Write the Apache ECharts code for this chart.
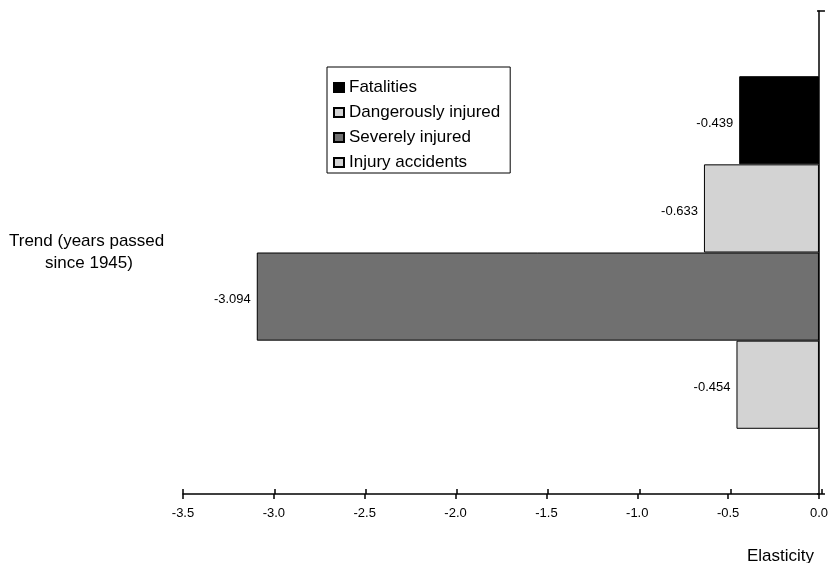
<!DOCTYPE html>
<html>
<head>
<meta charset="utf-8">
<script src="https://cdn.jsdelivr.net/npm/echarts@6/dist/echarts.min.js"></script>
<style>html,body{margin:0;padding:0;background:#fff;}#c{width:831px;height:563px;}</style>
</head>
<body>
<div id="c"></div>
<script>
const categories = ['Trend (years passed since 1945)'];
const seriesNames = ['Fatalities', 'Dangerously injured', 'Severely injured', 'Injury accidents'];
const fatalities = [-0.439];
const dangerouslyInjured = [-0.633];
const severelyInjured = [-3.094];
const injuryAccidents = [-0.454];
const seriesColors = ['#000000', '#d3d3d3', '#707070', '#d3d3d3'];
const xMin = -3.5, xMax = 0, xStep = 0.5;

const FONT = 'Liberation Sans, Arial, sans-serif';
const chart = echarts.init(document.getElementById('c'));
const values = [fatalities, dangerouslyInjured, severelyInjured, injuryAccidents];

const gridPos = { left: 183, right: 9, top: 11, bottom: 69, containLabel: false };

chart.setOption({
  animation: false,
  backgroundColor: '#ffffff',
  textStyle: { fontFamily: FONT, color: '#000' },
  title: {
    text: 'Elasticity', left: 742, top: 543,
    textStyle: { fontFamily: FONT, fontSize: 17, fontWeight: 'normal', color: '#000' }
  },
  legend: {
    orient: 'vertical', left: 327, top: 67,
    data: seriesNames,
    icon: 'rect',
    padding: [12, 10, 2, 6],
    itemGap: 8, itemWidth: 10, itemHeight: 9,
    borderColor: '#000', borderWidth: 1,
    textStyle: { fontFamily: FONT, fontSize: 17, color: '#000' },
    selectedMode: false
  },
  grid: [Object.assign({}, gridPos), Object.assign({}, gridPos)],
  xAxis: [
    {
      type: 'value', gridIndex: 0, position: 'bottom',
      min: xMin, max: xMax, interval: xStep,
      splitLine: { show: false },
      axisLine: { show: true, onZero: false, lineStyle: { color: '#000', width: 1.5 } },
      axisTick: { show: true, length: 5, lineStyle: { color: '#000', width: 1.5 } },
      axisLabel: { margin: 13, fontSize: 13, color: '#000', fontFamily: FONT,
        formatter: v => v.toFixed(1) }
    },
    {
      type: 'value', gridIndex: 1, position: 'bottom',
      min: xMin, max: xMax, interval: xStep,
      splitLine: { show: false },
      axisLine: { show: false, onZero: false },
      axisTick: { show: true, inside: true, length: 5, lineStyle: { color: '#000', width: 1.5 } },
      axisLabel: { show: false }
    }
  ],
  yAxis: [
    {
      type: 'category', gridIndex: 0, position: 'right', inverse: true,
      data: categories,
      axisLine: { show: true, onZero: false, lineStyle: { color: '#000', width: 1.5 } },
      axisTick: { show: true, length: 6, lineStyle: { color: '#000', width: 1.5 } },
      axisLabel: { show: false },
      splitLine: { show: false }
    },
    {
      type: 'category', gridIndex: 0, position: 'left',
      data: categories,
      axisLine: { show: false },
      axisTick: { show: false },
      axisLabel: { show: true, margin: 94, align: 'center', fontSize: 17, lineHeight: 22,
        color: '#000', fontFamily: FONT, width: 170, overflow: 'break' },
      splitLine: { show: false }
    },
    {
      type: 'category', gridIndex: 1, position: 'right',
      data: categories,
      axisLine: { show: false, onZero: false },
      axisTick: { show: true, inside: true, length: 5, lineStyle: { color: '#000', width: 1.5 } },
      axisLabel: { show: false },
      splitLine: { show: false }
    }
  ],
  series: seriesNames.map((name, i) => ({
    name: name,
    type: 'bar',
    xAxisIndex: 0, yAxisIndex: 0,
    data: values[i],
    barGap: '0%',
    barCategoryGap: '27%',
    itemStyle: { color: seriesColors[i], borderColor: '#000', borderWidth: 1 },
    label: {
      show: true, position: 'left', distance: 6, offset: [0, 3],
      fontSize: 13, color: '#000', fontFamily: FONT,
      formatter: p => p.value.toFixed(3)
    }
  }))
});
</script>
</body>
</html>
